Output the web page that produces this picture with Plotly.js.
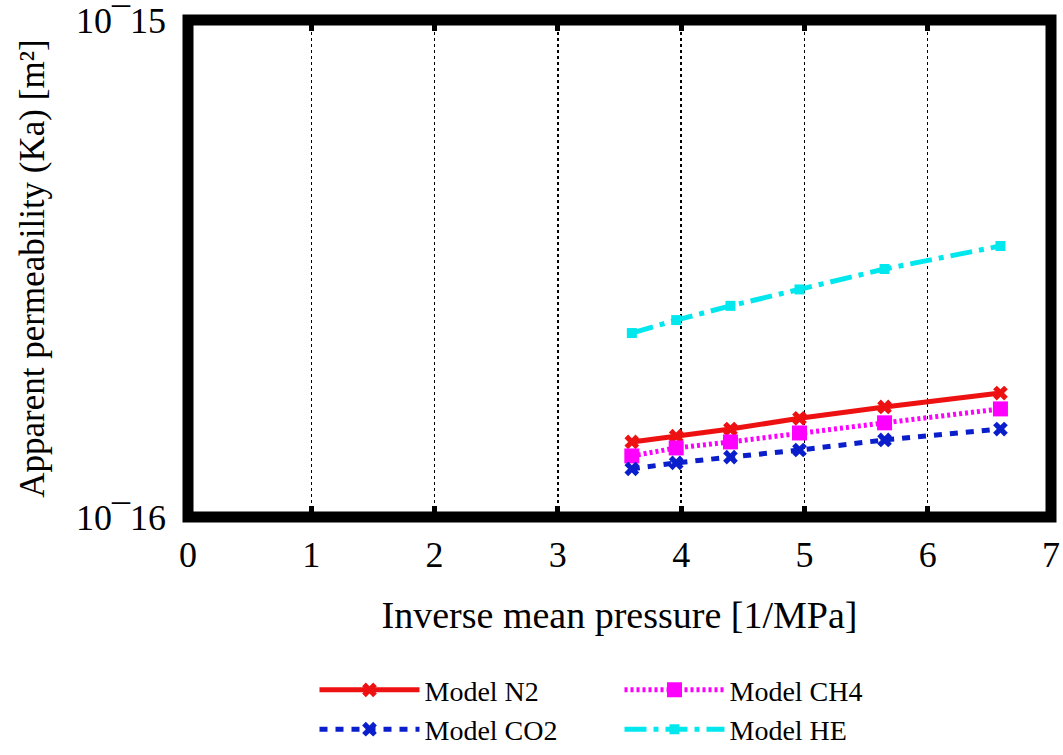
<!DOCTYPE html>
<html>
<head>
<meta charset="utf-8">
<script src="https://cdn.plot.ly/plotly-3.0.1.min.js"></script>
<style>html,body{margin:0;padding:0;background:#fff;}#chart{width:1063px;height:755px;}</style>
</head>
<body>
<div id="chart"></div>
<script>
// Inverse mean pressure [1/MPa]
const xInvP = [3.60, 3.96, 4.40, 4.96, 5.65, 6.59];
// Apparent permeability [m^2]
const kN2  = [1.416e-16, 1.455e-16, 1.503e-16, 1.580e-16, 1.665e-16, 1.776e-16];
const kCH4 = [1.327e-16, 1.377e-16, 1.416e-16, 1.476e-16, 1.547e-16, 1.650e-16];
const kCO2 = [1.250e-16, 1.285e-16, 1.320e-16, 1.364e-16, 1.429e-16, 1.503e-16];
const kHE  = [2.345e-16, 2.490e-16, 2.660e-16, 2.870e-16, 3.155e-16, 3.510e-16];
const seriesNames = ['Model N2', 'Model CH4', 'Model CO2', 'Model HE'];
const xTickVals = [0, 1, 2, 3, 4, 5, 6, 7];
const yTickVals = [1e-16, 1e-15];
const yTickText = ['10\u00AF16', '10\u00AF15'];

const FONT = '"Liberation Serif", "Times New Roman", serif';

const traces = [
  {x: xInvP, y: kN2, name: seriesNames[0], mode: 'lines+markers',
   line: {color: '#ee1111', width: 5, dash: 'solid'},
   marker: {symbol: 'x', size: 13, color: '#ee1111'}},
  {x: xInvP, y: kCH4, name: seriesNames[1], mode: 'lines+markers',
   line: {color: '#ff00ff', width: 5, dash: '3px,3px'},
   marker: {symbol: 'square', size: 15, color: '#ff00ff'}},
  {x: xInvP, y: kCO2, name: seriesNames[2], mode: 'lines+markers',
   line: {color: '#0a1ecc', width: 5, dash: '8px,8px'},
   marker: {symbol: 'x', size: 13, color: '#0a1ecc'}},
  {x: xInvP, y: kHE, name: seriesNames[3], mode: 'lines+markers',
   line: {color: '#00e8ee', width: 5, dash: '22px,7px,5px,7px'},
   marker: {symbol: 'square', size: 10, color: '#00e8ee'}}
];

const layout = {
  width: 1063, height: 755,
  margin: {l: 188, r: 12, t: 20, b: 238, autoexpand: false},
  paper_bgcolor: '#ffffff', plot_bgcolor: '#ffffff',
  font: {family: FONT, size: 30, color: '#000'},
  showlegend: true,
  xaxis: {
    range: [0, 7], tickvals: xTickVals, ticktext: xTickVals.map(String),
    showgrid: true, gridcolor: '#000', gridwidth: 1.5, griddash: 'dot',
    zeroline: false, showline: false, automargin: false,
    ticks: 'inside', ticklen: 11, tickwidth: 5, tickcolor: '#000', mirror: 'ticks',
    tickfont: {family: FONT, size: 36}, ticklabelstandoff: 13,
    title: {text: 'Inverse mean pressure [1/MPa]', font: {family: FONT, size: 38}, standoff: 27}
  },
  yaxis: {
    type: 'log', range: [-16, -15], tickvals: yTickVals, ticktext: yTickText,
    showgrid: false, zeroline: false, showline: false, ticks: '', automargin: false,
    tickfont: {family: FONT, size: 36}, ticklabelstandoff: 21,
    title: {text: 'Apparent permeability (Ka) [m²]', font: {family: FONT, size: 35}, standoff: 20}
  },
  legend: {
    orientation: 'h', x: 0.5, xanchor: 'center', y: -0.298, yanchor: 'top',
    entrywidth: 190, itemwidth: 100, font: {family: FONT, size: 28},
    bgcolor: 'rgba(0,0,0,0)', tracegroupgap: 0
  },
  shapes: [{type: 'rect', xref: 'paper', yref: 'paper', x0: 0, x1: 1, y0: 0, y1: 1,
            line: {color: '#000', width: 11}, layer: 'above'}]
};

Plotly.newPlot('chart', traces, layout, {displayModeBar: false, staticPlot: true});
</script>
</body>
</html>
